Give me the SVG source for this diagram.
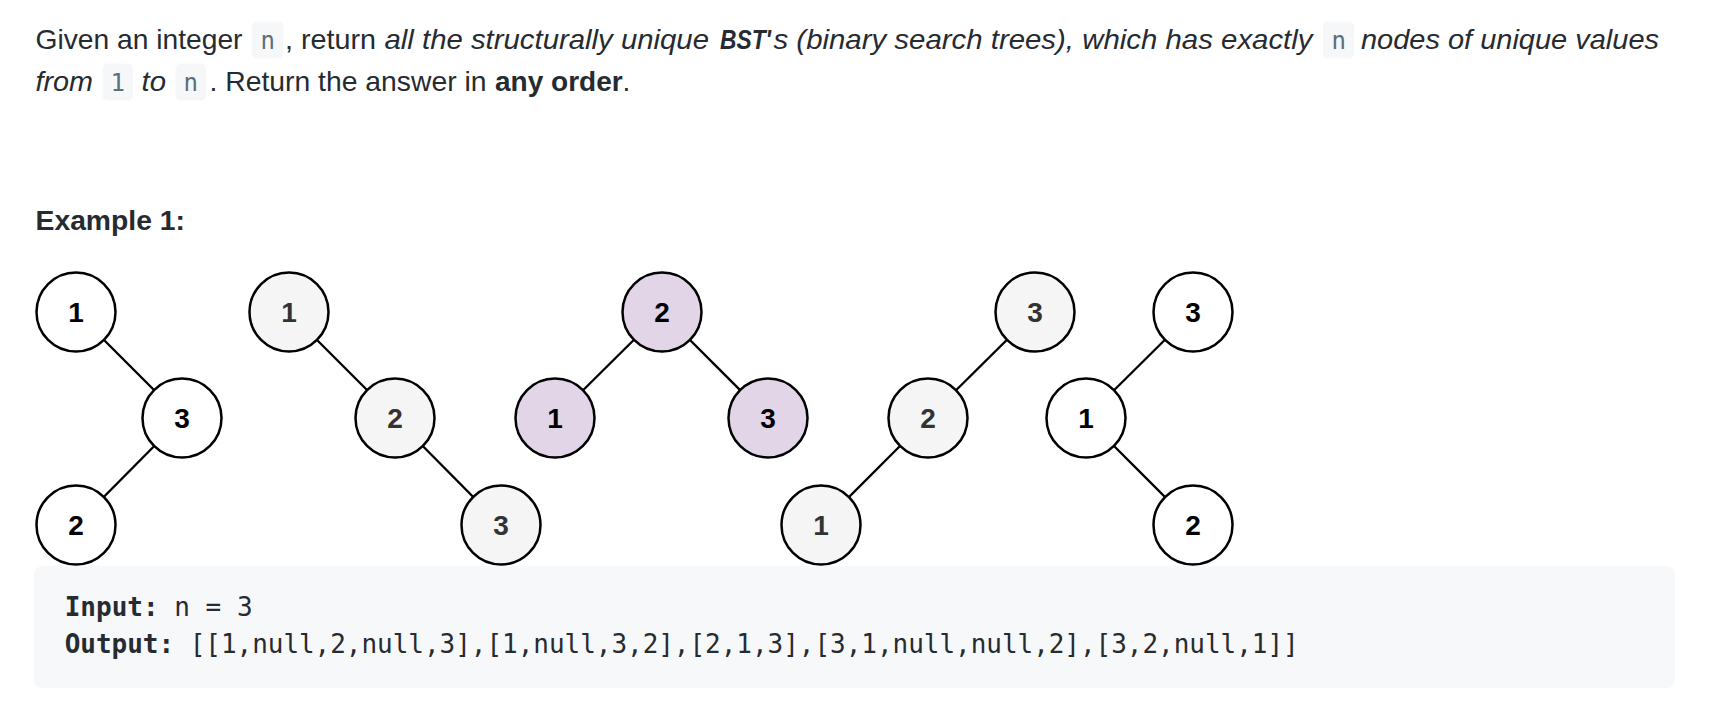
<svg xmlns="http://www.w3.org/2000/svg" width="1716" height="702" viewBox="0 0 1716 702">
<style>
.t{font-family:"Liberation Sans",Arial,sans-serif;font-size:28px;fill:#262b31}
.i{font-style:italic}
.b{font-weight:bold}
.code{font-family:"DejaVu Sans Mono","Liberation Mono",monospace;font-size:24px;fill:#5a6e7b}
.cbg{fill:#f5f7f9}
.mono{font-family:"DejaVu Sans Mono","Liberation Mono",monospace;font-size:26px;fill:#262b31}
.edge{stroke:#000;stroke-width:2.3;fill:none}
.nd{stroke:#000;stroke-width:2.5}
.w{fill:#ffffff}
.g{fill:#f5f5f5}
.p{fill:#e1d5e7}
.lbl{font-family:"Liberation Sans",Arial,sans-serif;font-size:28px;font-weight:bold;text-anchor:middle}
.lk{fill:#000}
.lg{fill:#333333}
</style>
<rect width="1716" height="702" fill="#ffffff"/>
<g id="description">
<rect class="cbg" x="252" y="21.5" width="31.5" height="37" rx="5"/>
<rect class="cbg" x="1323" y="21.5" width="31.5" height="37" rx="5"/>
<rect class="cbg" x="102.5" y="63.5" width="30.5" height="37" rx="5"/>
<rect class="cbg" x="175.5" y="63.5" width="30.5" height="37" rx="5"/>
<text class="t" x="35.5" y="49" textLength="207" lengthAdjust="spacingAndGlyphs">Given an integer</text>
<text class="code" x="267.75" y="49" text-anchor="middle">n</text>
<text class="t" x="285" y="49" textLength="91" lengthAdjust="spacingAndGlyphs">, return</text>
<text class="t i" x="384.5" y="49" textLength="324.5" lengthAdjust="spacingAndGlyphs">all the structurally unique</text>
<text class="t i b" x="720" y="49" textLength="51" lengthAdjust="spacingAndGlyphs">BST'</text>
<text class="t i" x="773.5" y="49" textLength="539" lengthAdjust="spacingAndGlyphs">s (binary search trees), which has exactly</text>
<text class="code" x="1338.75" y="49" text-anchor="middle">n</text>
<text class="t i" x="1361" y="49" textLength="298" lengthAdjust="spacingAndGlyphs">nodes of unique values</text>
<text class="t i" x="35.5" y="91" textLength="57.5" lengthAdjust="spacingAndGlyphs">from</text>
<text class="code" x="117.75" y="91" text-anchor="middle">1</text>
<text class="t i" x="141.5" y="91" textLength="24.5" lengthAdjust="spacingAndGlyphs">to</text>
<text class="code" x="190.75" y="91" text-anchor="middle">n</text>
<text class="t" x="209.5" y="91" textLength="277" lengthAdjust="spacingAndGlyphs">. Return the answer in</text>
<text class="t" x="495" y="91"><tspan font-weight="bold">any order</tspan>.</text>
<text class="t b" x="35.5" y="230" textLength="149.5" lengthAdjust="spacingAndGlyphs">Example 1:</text>
</g>
<g id="example-box">
<rect x="34" y="566" width="1641" height="122" rx="8" fill="#f7f8fa"/>
<text class="mono" x="64.7" y="616"><tspan font-weight="bold">Input:</tspan> n = 3</text>
<text class="mono" x="64.7" y="653" textLength="1234" lengthAdjust="spacing"><tspan font-weight="bold">Output:</tspan> [[1,null,2,null,3],[1,null,3,2],[2,1,3],[3,1,null,null,2],[3,2,null,1]]</text>
</g>
<g id="connectors">
<line class="edge" x1="76" y1="312" x2="182" y2="418"/>
<line class="edge" x1="182" y1="418" x2="76" y2="525"/>
<line class="edge" x1="289" y1="312" x2="395" y2="418"/>
<line class="edge" x1="395" y1="418" x2="501" y2="525"/>
<line class="edge" x1="662" y1="312" x2="555" y2="418"/>
<line class="edge" x1="662" y1="312" x2="768" y2="418"/>
<line class="edge" x1="1035" y1="312" x2="928" y2="418"/>
<line class="edge" x1="928" y1="418" x2="821" y2="525"/>
<line class="edge" x1="1193" y1="312" x2="1086" y2="418"/>
<line class="edge" x1="1086" y1="418" x2="1193" y2="525"/>
</g>
<g id="t1-n1"><circle class="nd w" cx="76" cy="312" r="39.5"/><text class="lbl lk" x="76" y="322">1</text></g>
<g id="t1-n3"><circle class="nd w" cx="182" cy="418" r="39.5"/><text class="lbl lk" x="182" y="428">3</text></g>
<g id="t1-n2"><circle class="nd w" cx="76" cy="525" r="39.5"/><text class="lbl lk" x="76" y="535">2</text></g>
<g id="t2-n1"><circle class="nd g" cx="289" cy="312" r="39.5"/><text class="lbl lg" x="289" y="322">1</text></g>
<g id="t2-n2"><circle class="nd g" cx="395" cy="418" r="39.5"/><text class="lbl lg" x="395" y="428">2</text></g>
<g id="t2-n3"><circle class="nd g" cx="501" cy="525" r="39.5"/><text class="lbl lg" x="501" y="535">3</text></g>
<g id="t3-n2"><circle class="nd p" cx="662" cy="312" r="39.5"/><text class="lbl lk" x="662" y="322">2</text></g>
<g id="t3-n1"><circle class="nd p" cx="555" cy="418" r="39.5"/><text class="lbl lk" x="555" y="428">1</text></g>
<g id="t3-n3"><circle class="nd p" cx="768" cy="418" r="39.5"/><text class="lbl lk" x="768" y="428">3</text></g>
<g id="t4-n3"><circle class="nd g" cx="1035" cy="312" r="39.5"/><text class="lbl lg" x="1035" y="322">3</text></g>
<g id="t4-n2"><circle class="nd g" cx="928" cy="418" r="39.5"/><text class="lbl lg" x="928" y="428">2</text></g>
<g id="t4-n1"><circle class="nd g" cx="821" cy="525" r="39.5"/><text class="lbl lg" x="821" y="535">1</text></g>
<g id="t5-n3"><circle class="nd w" cx="1193" cy="312" r="39.5"/><text class="lbl lk" x="1193" y="322">3</text></g>
<g id="t5-n1"><circle class="nd w" cx="1086" cy="418" r="39.5"/><text class="lbl lk" x="1086" y="428">1</text></g>
<g id="t5-n2"><circle class="nd w" cx="1193" cy="525" r="39.5"/><text class="lbl lk" x="1193" y="535">2</text></g>
</svg>
